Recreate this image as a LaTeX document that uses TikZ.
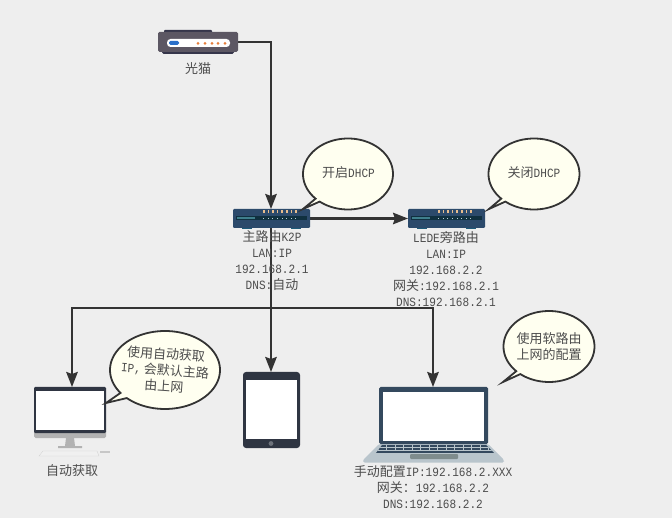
\documentclass[tikz,border=0pt]{standalone}
\usepackage{fontspec}
\setmainfont{Liberation Mono}[FakeStretch=0.88]
\newfontfamily\cjk{Noto Sans CJK SC}
\usetikzlibrary{arrows.meta}
\definecolor{bgc}{HTML}{EEEEEE}
\definecolor{ink}{HTML}{333333}
\definecolor{txt}{HTML}{4D4D4D}
\definecolor{bub}{HTML}{FFFFF0}
\definecolor{slate}{HTML}{2F3542}
\definecolor{rtr}{HTML}{2C4A6B}
\definecolor{rslot}{HTML}{10303F}
\definecolor{lap}{HTML}{34495E}
\definecolor{lapb}{HTML}{B9C5CC}
\definecolor{modemb}{HTML}{5C5763}
\definecolor{modemd}{HTML}{35354A}
\definecolor{modemp}{HTML}{2A6FC9}
\definecolor{modemo}{HTML}{E67E3C}
\definecolor{rlight}{HTML}{E8BC8C}
\definecolor{rteal}{HTML}{3F7F8C}
\definecolor{rfoot}{HTML}{1E5A78}
\definecolor{rdot}{HTML}{B8D0D6}
\definecolor{pad}{HTML}{7F8C8D}
\newcommand{\zh}[1]{{\fontsize{13}{16}\selectfont\cjk #1}}
\newcommand{\routerart}[2]{%
  \begin{scope}[shift={(#1,#2)}]
    \fill[rfoot] (9,19) rectangle (19,20.2);
    \fill[rfoot] (58,19) rectangle (68,20.2);
    \fill[rtr,rounded corners=1.2] (0,0) rectangle (77,19);
    \fill[rslot] (3,7) rectangle (74,11.5);
    \fill[rteal] (4,8) rectangle (22,10.5);
    \foreach \i in {0,...,7}{
      \fill[rlight] ({30+\i*4.6},.6) rectangle ++(1.5,3);
      \fill[rdot] ({30.2+\i*4.6},8.7) rectangle ++(1,1);
    }
  \end{scope}}
\newcommand{\bubbleart}[9]{%
  \draw[bubbleline] plot[domain=#5:#6,samples=90] ({#1+#3*cos(\x)},{#2-#4*sin(\x)}) -- (#7,#8) -- cycle;
  #9}
\tikzset{
  x=1pt,y=-1pt,
  conn/.style={draw=ink,line width=2.2pt,-{Stealth[length=15pt,width=11.5pt,inset=2pt]}},
  bubbleline/.style={draw=ink,line width=1.8pt,fill=bub,line join=miter},
  label/.style={text=txt,align=center,inner sep=0pt,font=\fontsize{12.6}{16}\selectfont},
  device/.style={inner sep=0pt,outer sep=0pt},
}
\begin{document}
\begin{tikzpicture}
\fill[bgc] (0,0) rectangle (672,518);
\useasboundingbox (0,0) rectangle (672,518);

% anchors for the connectors
\node[device,minimum width=80pt,minimum height=22pt] (modem) at (198,42) {};
\node[device,minimum width=77pt,minimum height=19pt] (k2p) at (271,218.5) {};
\node[device,minimum width=77pt,minimum height=19pt] (lede) at (446.5,218.5) {};
\node[device,minimum width=72pt,minimum height=60pt] (pc) at (72,417) {};
\node[device,minimum width=57pt,minimum height=76pt] (tablet) at (271,410) {};
\node[device,minimum width=109pt,minimum height=75pt] (laptop) at (433,424.5) {};
\coordinate (bus) at (271,308);

% connectors
\draw[conn] (modem.east) -| (k2p.north);
\draw[conn] (k2p.east) -- (lede.west);
\draw[conn] (k2p.south) -- (tablet.north);
\draw[conn] (bus) -| (pc.north);
\draw[conn] (bus) -| (laptop.north);

% modem
\fill[modemd,rounded corners=1] (164,30) rectangle (212,36);
\fill[modemd,rounded corners=1.5] (162,46) rectangle (234,54);
\fill[modemb,rounded corners=1.5] (158,32) rectangle (238,52);
\fill[white,rounded corners=3.5] (167,39) rectangle (230,47);
\fill[modemp,rounded corners=1.5] (169,41) rectangle (179,45);
\foreach \px in {198,205,212,218,225}{\fill[modemo] (\px,43.5) circle (1.5);}

% routers
\routerart{233}{209}
\routerart{408}{209}

% desktop
\fill[black!30,rounded corners=1.5] (34,430) rectangle (106,438);
\fill[black!30] (66,438) -- (74,438) -- (75,446) -- (82,446) -- (82,448) -- (58,448) -- (58,446) -- (65,446) -- cycle;
\fill[black!6,draw=black!18,line width=.3pt] (43,451) -- (97,451) -- (99,456) -- (39,456) -- cycle;
\fill[black!22] (100,451) rectangle (110,453);
\fill[slate,rounded corners=1.2] (34,387) rectangle (106,433);
\fill[white] (36,391) rectangle (104,430);

% tablet
\fill[slate,rounded corners=3] (243,372) rectangle (300,448);
\fill[white] (246,380) rectangle (297,439);
\fill[slate!70!white] (271,443.5) circle (2.4);

% laptop
\fill[lapb,rounded corners=1.5] (379,444) -- (488,444) -- (504,460) -- (504,462.5) -- (363,462.5) -- (363,460) -- cycle;
\begin{scope}
  \clip (382,445) -- (486,445) -- (494,453) -- (376,453) -- cycle;
  \fill[lap] (376,445) rectangle (494,453);
  \foreach \rowy in {447.7,450.5}{\draw[lapb,line width=.9pt] (376,\rowy) -- (494,\rowy);}
  \foreach \kx in {378,386.5,...,490}{\draw[lapb,line width=1pt] (\kx,445) -- (\kx,450.5);}
\end{scope}
\fill[pad,rounded corners=1] (410,454) rectangle (458,459);
\fill[lap,rounded corners=1.5] (379,387) rectangle (488,444);
\fill[white] (382.5,392.5) rectangle (484,441);

% speech bubbles
\bubbleart{348}{174}{45}{35.5}{231}{584}{303}{209}{\node[label] (b1) at (348.5,173) {\zh{开启}DHCP};}
\bubbleart{534}{174}{45.5}{35.5}{231}{584}{489}{209}{\node[label] (b2) at (534,173) {\zh{关闭}DHCP};}
\bubbleart{549}{346.5}{45.5}{35.5}{231}{584}{503}{382}{\node[label] (b3) at (549,346.5) {\zh{使用软路由}\\\zh{上网的配置}};}
\bubbleart{165}{370}{55}{39}{226}{576}{106}{403}{\node[label,rotate=-4] (b4) at (165,370) {\zh{使用自动获取}\\IP,\zh{ 会默认主路}\\\zh{由上网}};}

% labels
\node[label] (t0) at (198,69) {\zh{光猫}};
\node[label] (t1) at (272,261) {\zh{主路由}K2P\\LAN:IP\\192.168.2.1\\DNS:\zh{自动}};
\node[label] (t2) at (446,269) {LEDE\zh{旁路由}\\LAN:IP\\192.168.2.2\\\zh{网关}:192.168.2.1\\DNS:192.168.2.1};
\node[label] (t3) at (72,471) {\zh{自动获取}};
\node[label] (t4) at (433,487) {\zh{手动配置}IP:192.168.2.XXX\\\zh{网关：}192.168.2.2\\DNS:192.168.2.2};
\end{tikzpicture}
\end{document}
